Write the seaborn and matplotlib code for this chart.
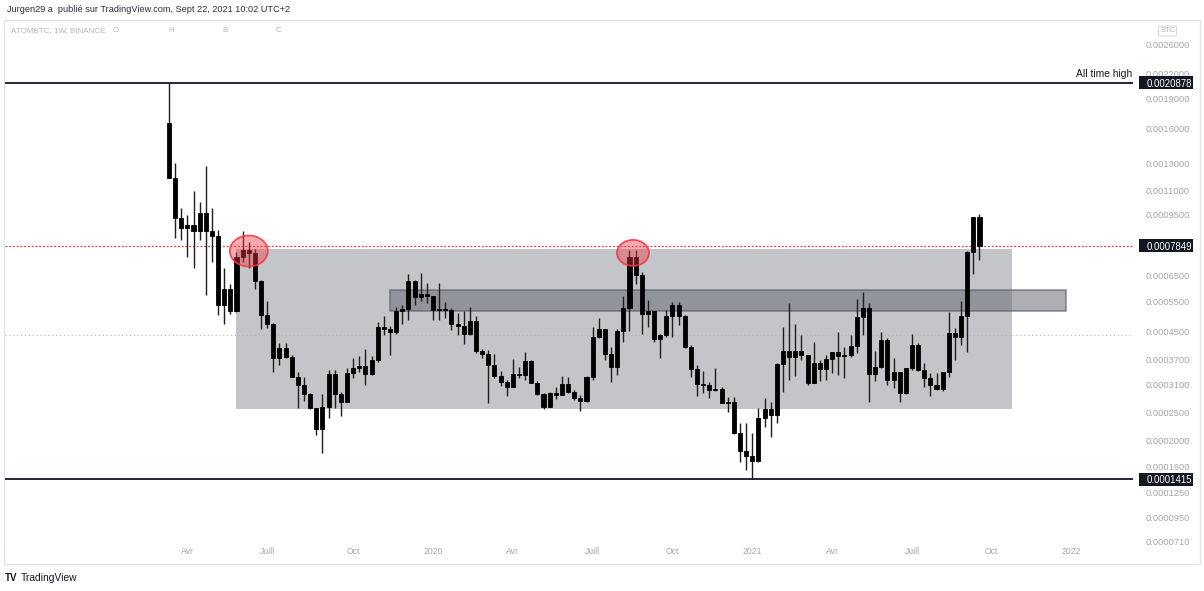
import numpy as np
import pandas as pd
import matplotlib
matplotlib.use('Agg')
import matplotlib.pyplot as plt
import matplotlib.dates as mdates
import matplotlib.transforms as mtransforms
from matplotlib.patches import Rectangle, Ellipse
from matplotlib.text import Text
from matplotlib.ticker import FuncFormatter, NullLocator
import seaborn as sns

sns.set_theme(style='white')
plt.rcParams['font.family'] = ['Liberation Sans', 'DejaVu Sans']

# Bougies hebdomadaires ATOMBTC (BINANCE), semaine du lundi
first_week = '2019-03-11'
opens = [0.0016496, 0.0011890, 0.0009321, 0.0008764, 0.0008928, 0.0008602, 0.0009612, 0.0008602, 0.0008339, 0.0005365,
         0.0005957, 0.0005157, 0.0007311, 0.0007640, 0.0007497, 0.0006273, 0.0005021, 0.0004728, 0.0003742, 0.0004013,
         0.0003768, 0.0003267, 0.0003081, 0.0002882, 0.0002592, 0.0002196, 0.0002612, 0.0003339, 0.0002882, 0.0002714,
         0.0003363, 0.0003486, 0.0003536, 0.0003339, 0.0003690, 0.0004633, 0.0004571, 0.0004479, 0.0005157, 0.0005226,
         0.0006273, 0.0005655, 0.0005767, 0.0005692, 0.0005191, 0.0005226, 0.0005191, 0.0004728, 0.0004664, 0.0004418,
         0.0004824, 0.0003930, 0.0003849, 0.0003561, 0.0003291, 0.0003150, 0.0003036, 0.0003339, 0.0003315, 0.0003664,
         0.0003127, 0.0002882, 0.0002612, 0.0002904, 0.0002861, 0.0003104, 0.0002926, 0.0002797, 0.0002734, 0.0003267,
         0.0004329, 0.0004571, 0.0003849, 0.0003511, 0.0004509, 0.0005260, 0.0007311, 0.0006520, 0.0005055, 0.0005157,
         0.0004270, 0.0004388, 0.0004988, 0.0005365, 0.0004988, 0.0004041, 0.0003461, 0.0003104, 0.0003081, 0.0002970,
         0.0002992, 0.0002693, 0.0002714, 0.0002126, 0.0001829, 0.0001751, 0.0001676, 0.0002398, 0.0002572, 0.0002455,
         0.0003587, 0.0003930, 0.0003768, 0.0003930, 0.0003822, 0.0003127, 0.0003612, 0.0003461, 0.0003716, 0.0003903,
         0.0003795, 0.0003822, 0.0004069, 0.0004955, 0.0005260, 0.0003339, 0.0003511, 0.0004241, 0.0003196, 0.0003387,
         0.0002904, 0.0003486, 0.0004097, 0.0003436, 0.0003243, 0.0003081, 0.0002992, 0.0003387, 0.0004448, 0.0004329,
         0.0004988, 0.0007545, 0.0009379]
highs = [0.0020878, 0.0013010, 0.0009911, 0.0009495, 0.0010992, 0.0010281, 0.0012778, 0.0009911, 0.0008656, 0.0006818,
         0.0006153, 0.0007545, 0.0008602, 0.0008033, 0.0007689, 0.0006314, 0.0005508, 0.0004760, 0.0004154, 0.0004154,
         0.0003822, 0.0003387, 0.0003267, 0.0002904, 0.0002592, 0.0002882, 0.0003436, 0.0003436, 0.0002926, 0.0003486,
         0.0003742, 0.0003795, 0.0003985, 0.0003795, 0.0004792, 0.0004988, 0.0004664, 0.0005295, 0.0005365, 0.0006562,
         0.0006314, 0.0006604, 0.0006193, 0.0005692, 0.0006193, 0.0005472, 0.0005260, 0.0005089, 0.0005157, 0.0005295,
         0.0004988, 0.0003985, 0.0003957, 0.0003849, 0.0003412, 0.0003196, 0.0003716, 0.0003511, 0.0003903, 0.0003690,
         0.0003173, 0.0002904, 0.0002926, 0.0003036, 0.0003291, 0.0003267, 0.0002970, 0.0002861, 0.0003291, 0.0004633,
         0.0004922, 0.0004571, 0.0004041, 0.0004571, 0.0005692, 0.0007640, 0.0007640, 0.0006646, 0.0005545, 0.0005157,
         0.0004418, 0.0005191, 0.0005472, 0.0005472, 0.0005021, 0.0004097, 0.0003561, 0.0003412, 0.0003150, 0.0003486,
         0.0003036, 0.0002818, 0.0002818, 0.0002305, 0.0002305, 0.0002126, 0.0002592, 0.0002797, 0.0002714, 0.0003612,
         0.0004633, 0.0005437, 0.0004728, 0.0004388, 0.0003822, 0.0004183, 0.0003690, 0.0003822, 0.0003903, 0.0004479,
         0.0004041, 0.0004388, 0.0005581, 0.0005842, 0.0005437, 0.0003930, 0.0004479, 0.0004299, 0.0003742, 0.0003387,
         0.0003486, 0.0004418, 0.0004154, 0.0003612, 0.0003363, 0.0003363, 0.0003387, 0.0005123, 0.0004602, 0.0005508,
         0.0007592, 0.0009379, 0.0009553]
lows = [0.0011890, 0.0008236, 0.0008134, 0.0007311, 0.0006818, 0.0008134, 0.0005729, 0.0007083, 0.0005021, 0.0004728,
        0.0005055, 0.0005123, 0.0007083, 0.0006818, 0.0005957, 0.0004571, 0.0004602, 0.0003387, 0.0003561, 0.0003742,
        0.0003267, 0.0002592, 0.0002734, 0.0002572, 0.0002092, 0.0001797, 0.0002398, 0.0002592, 0.0002436, 0.0002714,
        0.0003243, 0.0003387, 0.0003081, 0.0003315, 0.0003638, 0.0004388, 0.0003822, 0.0004418, 0.0004728, 0.0004857,
        0.0005365, 0.0005508, 0.0005437, 0.0004857, 0.0004857, 0.0004922, 0.0004540, 0.0004388, 0.0004126, 0.0004388,
        0.0003876, 0.0003742, 0.0002693, 0.0003243, 0.0003059, 0.0002839, 0.0003036, 0.0003243, 0.0003196, 0.0003127,
        0.0002861, 0.0002572, 0.0002612, 0.0002776, 0.0002861, 0.0002904, 0.0002755, 0.0002532, 0.0002714, 0.0003196,
        0.0004299, 0.0003690, 0.0003150, 0.0003315, 0.0004183, 0.0004509, 0.0006153, 0.0004418, 0.0004633, 0.0004183,
        0.0003742, 0.0004329, 0.0004329, 0.0004696, 0.0004013, 0.0003267, 0.0002839, 0.0002904, 0.0002797, 0.0002948,
        0.0002693, 0.0002513, 0.0002109, 0.0001661, 0.0001545, 0.0001415, 0.0001661, 0.0002232, 0.0002057, 0.0002305,
        0.0002926, 0.0003196, 0.0003291, 0.0003690, 0.0003081, 0.0003127, 0.0003173, 0.0003196, 0.0003363, 0.0003315,
        0.0003243, 0.0003768, 0.0003876, 0.0004388, 0.0002714, 0.0003173, 0.0003486, 0.0003081, 0.0003014, 0.0002714,
        0.0002882, 0.0003436, 0.0003412, 0.0003036, 0.0002839, 0.0002970, 0.0002948, 0.0003267, 0.0003690, 0.0004097,
        0.0003903, 0.0006562, 0.0007173]
closes = [0.0011890, 0.0009321, 0.0008764, 0.0008928, 0.0008602, 0.0009612, 0.0008602, 0.0008339, 0.0005365, 0.0005957,
          0.0005157, 0.0007311, 0.0007640, 0.0007497, 0.0006273, 0.0005021, 0.0004728, 0.0003742, 0.0004013, 0.0003768,
          0.0003267, 0.0003081, 0.0002882, 0.0002592, 0.0002196, 0.0002612, 0.0003339, 0.0002882, 0.0002714, 0.0003363,
          0.0003486, 0.0003536, 0.0003339, 0.0003690, 0.0004633, 0.0004571, 0.0004479, 0.0005157, 0.0005226, 0.0006273,
          0.0005655, 0.0005767, 0.0005692, 0.0005191, 0.0005226, 0.0005191, 0.0004728, 0.0004664, 0.0004418, 0.0004824,
          0.0003930, 0.0003849, 0.0003561, 0.0003291, 0.0003150, 0.0003036, 0.0003339, 0.0003315, 0.0003664, 0.0003127,
          0.0002882, 0.0002612, 0.0002904, 0.0002861, 0.0003104, 0.0002926, 0.0002797, 0.0002734, 0.0003267, 0.0004329,
          0.0004571, 0.0003849, 0.0003511, 0.0004509, 0.0005260, 0.0007311, 0.0006520, 0.0005055, 0.0005157, 0.0004270,
          0.0004388, 0.0004988, 0.0005365, 0.0004988, 0.0004041, 0.0003461, 0.0003104, 0.0003081, 0.0002970, 0.0002992,
          0.0002693, 0.0002714, 0.0002126, 0.0001829, 0.0001751, 0.0001676, 0.0002398, 0.0002572, 0.0002455, 0.0003587,
          0.0003930, 0.0003768, 0.0003930, 0.0003822, 0.0003127, 0.0003612, 0.0003461, 0.0003716, 0.0003903, 0.0003795,
          0.0003822, 0.0004069, 0.0004955, 0.0005260, 0.0003339, 0.0003511, 0.0004241, 0.0003196, 0.0003387, 0.0002904,
          0.0003486, 0.0004097, 0.0003436, 0.0003243, 0.0003081, 0.0002992, 0.0003387, 0.0004448, 0.0004329, 0.0004988,
          0.0007545, 0.0009379, 0.0007849]

ath = 0.0020878
atl = 0.0001415
last_price = 0.0007849
ref_level = 0.000439

# zones dessinées (date début, date fin, bas, haut)
range_box = ('2019-05-27', '2021-10-27', 0.000257, 0.000768)
zone_box = ('2019-11-18', '2021-12-28', 0.000515, 0.000592)
# cercles rouges (date, prix, largeur po, hauteur po)
circles = [('2019-06-10', 0.000759, 0.38, 0.31), ('2020-08-21', 0.000750, 0.32, 0.26)]

price_ticks = [0.0026, 0.0022, 0.0019, 0.0016, 0.0013, 0.0011, 0.00095, 0.00065, 0.00055, 0.00045,
               0.00037, 0.00031, 0.00025, 0.0002, 0.00016, 0.000125, 0.000095, 0.000071]
month_ticks = ['2019-04-01', '2019-07-01', '2019-10-07', '2020-01-06', '2020-04-06', '2020-07-06',
               '2020-10-05', '2021-01-04', '2021-04-05', '2021-07-05', '2021-10-04', '2022-01-03']
month_labels = ['Avr', 'Juill', 'Oct', '2020', 'Avr', 'Juill', 'Oct', '2021', 'Avr', 'Juill', 'Oct', '2022']

weeks = pd.date_range(first_week, periods=len(opens), freq='W-MON')
x = mdates.date2num(weeks.to_pydatetime())
o = np.array(opens)
c = np.array(closes)


def fwd(p):
    return np.log(np.clip(np.asarray(p, dtype=float) + 1e-4, 1e-9, None))


def inv(v):
    return np.exp(v) - 1e-4


W, H = 1204, 591
fig = plt.figure(figsize=(W / 100, H / 100), dpi=100)
fig.patch.set_facecolor('white')
ax = fig.add_axes([5 / W, 1 - 543 / H, (1133 - 5) / W, (543 - 22) / H])
ax.set_facecolor('white')
ax.set_yscale('function', functions=(fwd, inv))
ax.set_xlim(x[0] - 26.7 * 7, x[0] + 157.0 * 7)
ax.set_ylim(0.0000697, 0.002965)
ax.set_autoscale_on(False)

# zones grises
d0, d1 = mdates.date2num(pd.to_datetime([range_box[0], range_box[1]]).to_pydatetime())
ax.add_patch(Rectangle((d0, range_box[2]), d1 - d0, range_box[3] - range_box[2],
                       facecolor='#787b86', alpha=0.44, edgecolor='none', zorder=1))
d0, d1 = mdates.date2num(pd.to_datetime([zone_box[0], zone_box[1]]).to_pydatetime())
ax.add_patch(Rectangle((d0, zone_box[2]), d1 - d0, zone_box[3] - zone_box[2],
                       facecolor='#6a6d78', alpha=0.55, edgecolor='#50535e', linewidth=1.3, zorder=1.2))

# lignes horizontales
ax.axhline(ref_level, color='#b2b5be', lw=0.8, ls=(0, (1, 2.5)), zorder=1.5)
ax.axhline(last_price, color='#f23645', lw=0.9, ls=(0, (1.5, 1.5)), zorder=1.5)
ax.axhline(ath, color='#131722', lw=1.3, zorder=5)
ax.axhline(atl, color='#131722', lw=1.3, zorder=5)

# bougies (toutes noires)
ax.vlines(x, lows, highs, colors='#1e1e1e', linewidth=1.0, zorder=3)
ax.bar(x, np.abs(c - o), bottom=np.minimum(o, c), width=4.6, color='#000000',
       edgecolor='#000000', linewidth=0.6, zorder=4)

# cercles rouges
for day, price, w_in, h_in in circles:
    xc = mdates.date2num(pd.Timestamp(day).to_pydatetime())
    tr = fig.dpi_scale_trans + mtransforms.ScaledTranslation(xc, price, ax.transData)
    fig.add_artist(Ellipse((0, 0), w_in, h_in, transform=tr, facecolor=(0.95, 0.21, 0.27, 0.42),
                           edgecolor=(0.95, 0.21, 0.27, 0.85), linewidth=1.3, zorder=6))

# axes
for s in ax.spines.values():
    s.set_visible(False)
ax.grid(False)
ax.yaxis.tick_right()
ax.set_yticks(price_ticks)
ax.yaxis.set_minor_locator(NullLocator())
ax.yaxis.set_major_formatter(FuncFormatter(lambda v, _: f'{v:.7f}'))
ax.tick_params(axis='y', length=0, pad=9.4, labelsize=6.7, labelcolor='#a3a6af')
month_pos = mdates.date2num(pd.to_datetime(month_ticks).to_pydatetime())
ax.set_xticks(month_pos, month_labels)
ax.xaxis.set_minor_locator(NullLocator())
ax.tick_params(axis='x', length=0, pad=3, labelsize=6.2, labelcolor='#a3a6af')

# étiquettes de prix
lab_tr = mtransforms.blended_transform_factory(ax.transAxes, ax.transData)
for val, txt in [(ath, '0.0020878'), (last_price, '0.0007849'), (atl, '0.0001415')]:
    tr = fig.dpi_scale_trans + mtransforms.ScaledTranslation(1, val, lab_tr)
    fig.add_artist(Rectangle((0.06, -0.065), 0.54, 0.13, transform=tr, facecolor='#131722',
                             edgecolor='none', zorder=10))
    fig.add_artist(Text(0.135, 0.0, txt, transform=tr, ha='left', va='center_baseline',
                        fontsize=6.9, color='white', zorder=11))
ax.annotate('All time high', xy=(1, ath), xycoords=lab_tr, xytext=(-1, 4), textcoords='offset pixels',
            ha='right', va='bottom', fontsize=7.4, color='#131722', annotation_clip=False, zorder=11)

# textes de l'en-tête et du pied
fig.text(7 / W, 1 - 10 / H, 'Jurgen29 a  publié sur TradingView.com, Sept 22, 2021 10:02 UTC+2',
         fontsize=6.6, color='#2a2e39', va='center', ha='left')
fig.text(11 / W, 1 - 31 / H, 'ATOMBTC, 1W, BINANCE', fontsize=5.8, color='#b2b5be', va='center')
for lx, letter in [(116, 'O'), (171, 'H'), (225, 'B'), (279, 'C')]:
    fig.text(lx / W, 1 - 31 / H, letter, fontsize=5.8, color='#b2b5be', va='center', ha='center')
fig.text(1167.5 / W, 1 - 31 / H, 'BTC', fontsize=5.4, color='#b2b5be', va='center', ha='center',
         bbox=dict(boxstyle='round,pad=0.2', facecolor='white', edgecolor='#d1d4dc', linewidth=0.7))
fig.text(5 / W, 1 - 578 / H, 'TV', fontsize=7, fontweight='bold', color='#131722', va='center')
fig.text(21 / W, 1 - 578 / H, 'TradingView', fontsize=7.4, color='#131722', va='center')

# cadre du graphique
fig.add_artist(Rectangle((4 / W, 1 - 564 / H), 1196 / W, 544 / H, transform=fig.transFigure,
                         fill=False, edgecolor='#e0e3eb', linewidth=1.0, zorder=0))

fig.savefig('out.png', dpi=100, facecolor='white')
